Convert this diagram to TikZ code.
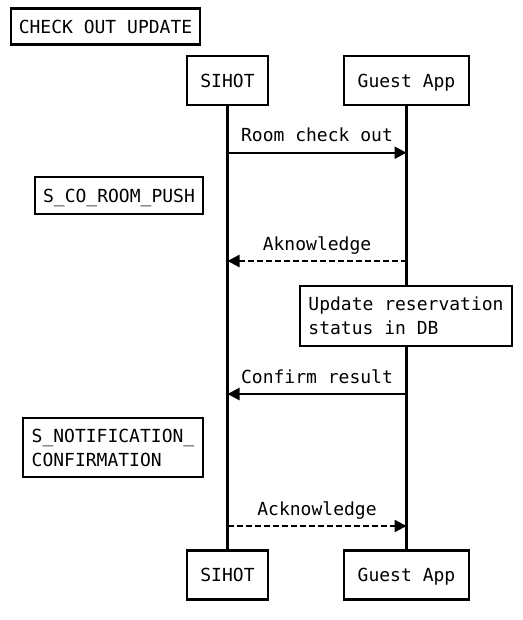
\documentclass[tikz,border=0pt]{standalone}
\usepackage{fontspec}
\setmainfont{DejaVu Sans Mono}
\usetikzlibrary{arrows.meta}
\begin{document}
\begin{tikzpicture}[x=1pt,y=-1pt,
  every node/.style={font=\fontsize{18}{24}\selectfont},
  box/.style={draw, line width=2.7pt, fill=white, inner sep=0pt, align=left},
  one/.style={box, text height=13.5pt, text depth=0pt},
  life/.style={line width=2.7pt},
  msg/.style={line width=2.3pt, -{Triangle[length=12pt,width=12pt]}},
  reply/.style={msg, dash pattern=on 6pt off 3pt},
  lbl/.style={anchor=base, inner sep=0pt}]
\useasboundingbox (0,0) rectangle (522,620);
% title
\node[one, minimum width=189pt, minimum height=36pt] (title) at (105.5,26.5) {CHECK OUT UPDATE};
% participants
\node[one, minimum width=81pt, minimum height=49pt] (sT) at (227.5,80.5) {SIHOT};
\node[one, minimum width=125pt, minimum height=49pt] (gT) at (406.5,80.5) {Guest App};
\node[one, minimum width=81pt, minimum height=49pt] (sB) at (227.5,575) {SIHOT};
\node[one, minimum width=125pt, minimum height=49pt] (gB) at (406.5,575) {Guest App};
% lifelines
\draw[life] (sT.south) -- (sB.north);
\draw[life] (gT.south) -- (gB.north);
% message anchor points
\coordinate (s1) at (227.5,152.7);
\coordinate (g1) at (406.5,152.7);
\coordinate (s2) at (227.5,261);
\coordinate (g2) at (406.5,261);
\coordinate (s3) at (227.5,394);
\coordinate (g3) at (406.5,394);
\coordinate (s4) at (227.5,526);
\coordinate (g4) at (406.5,526);
% messages
\draw[msg] (s1) -- (g1);
\node[lbl] (l1) at (317,141.7) {Room check out};
\draw[reply] (g2) -- (s2);
\node[lbl] (l2) at (317,250) {Aknowledge};
\draw[msg] (g3) -- (s3);
\node[lbl] (l3) at (317,383) {Confirm result};
\draw[reply] (s4) -- (g4);
\node[lbl] (l4) at (317,515) {Acknowledge};
% notes
\node[one, minimum width=168pt, minimum height=37pt] (n1) at (119,195.5) {S\_CO\_ROOM\_PUSH};
\node[box, minimum width=212pt, minimum height=60pt] (n2) at (406,316) {Update reservation\\status in DB};
\node[box, minimum width=180pt, minimum height=59pt] (n3) at (113,447.5) {S\_NOTIFICATION\_\\CONFIRMATION};
\end{tikzpicture}
\end{document}
